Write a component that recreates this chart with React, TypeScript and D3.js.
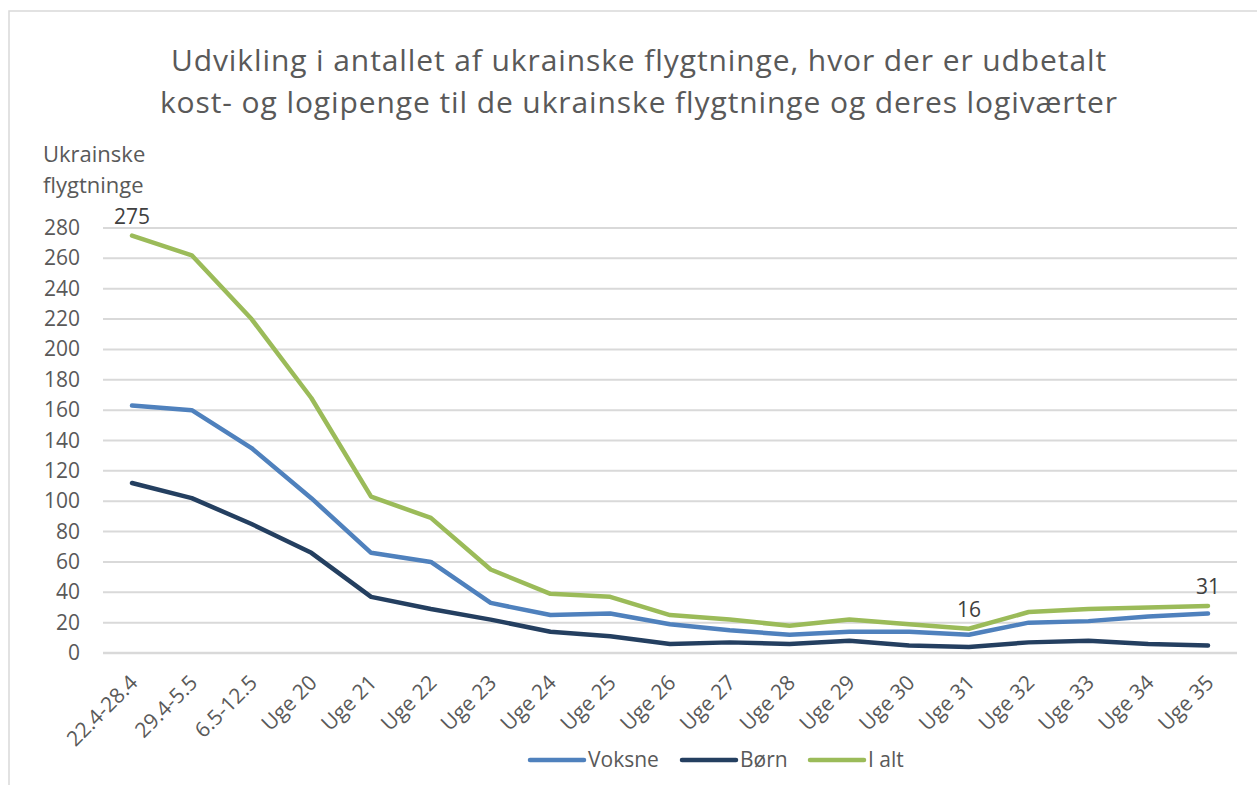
import React from "react";
import * as d3 from "d3";

const categories = [
  "22.4-28.4", "29.4-5.5", "6.5-12.5", "Uge 20", "Uge 21", "Uge 22", "Uge 23",
  "Uge 24", "Uge 25", "Uge 26", "Uge 27", "Uge 28", "Uge 29", "Uge 30",
  "Uge 31", "Uge 32", "Uge 33", "Uge 34", "Uge 35",
];
const voksne = [163, 160, 135, 102, 66, 60, 33, 25, 26, 19, 15, 12, 14, 14, 12, 20, 21, 24, 26];
const boern = [112, 102, 85, 66, 37, 29, 22, 14, 11, 6, 7, 6, 8, 5, 4, 7, 8, 6, 5];
const iAlt = [275, 262, 220, 168, 103, 89, 55, 39, 37, 25, 22, 18, 22, 19, 16, 27, 29, 30, 31];
const yTicks = [0, 20, 40, 60, 80, 100, 120, 140, 160, 180, 200, 220, 240, 260, 280];
// punkter med datalabel (index i iAlt)
const labelIdx = [0, 14, 18];

const W = 1257;
const H = 785;
const FONT = "'Open Sans', sans-serif";
const TXT = "#595959";

const series = [
  { name: "Voksne", values: voksne, color: "#4f81bd" },
  { name: "Børn", values: boern, color: "#243f60" },
  { name: "I alt", values: iAlt, color: "#9bbb59" },
];

export default function App() {
  const x = d3.scalePoint<string>().domain(categories).range([132, 1208]);
  const y = d3.scaleLinear().domain([0, 280]).range([653, 228]);
  const line = d3
    .line<number>()
    .x((_, i) => x(categories[i]) as number)
    .y((d) => y(d));

  const legendX = [530, 682, 810];

  return (
    <svg
      width={W}
      height={H}
      style={{ position: "absolute", left: 0, top: 0, background: "#fff" }}
      fontFamily={FONT}
    >
      <rect x={9} y={11} width={W} height={H} fill="#fff" stroke="#d9d9d9" strokeWidth={1.5} />

      {/* titel */}
      <text x={639} y={71} textAnchor="middle" fontSize={30} letterSpacing={0.9} fill={TXT}>
        Udvikling i antallet af ukrainske flygtninge, hvor der er udbetalt
      </text>
      <text x={639} y={113} textAnchor="middle" fontSize={30} letterSpacing={0.9} fill={TXT}>
        kost- og logipenge til de ukrainske flygtninge og deres logiværter
      </text>

      {/* akse-titel */}
      <text x={43} y={162} fontSize={22} fill={TXT}>Ukrainske</text>
      <text x={43} y={193} fontSize={22} fill={TXT}>flygtninge</text>

      {/* gitterlinjer */}
      {yTicks.map((t) => (
        <g key={t}>
          <line
            x1={103}
            x2={1237}
            y1={y(t)}
            y2={y(t)}
            stroke="#d9d9d9"
            strokeWidth={t === 0 ? 2.5 : 2}
          />
          <text x={80} y={y(t) + 7} textAnchor="end" fontSize={21} fill={TXT}>
            {t}
          </text>
        </g>
      ))}

      {/* x-akse labels */}
      {categories.map((c) => {
        const px = (x(c) as number) + 7;
        const py = 684;
        return (
          <text
            key={c}
            x={px}
            y={py}
            textAnchor="end"
            fontSize={21}
            fill={TXT}
            transform={`rotate(-45 ${px} ${py})`}
          >
            {c}
          </text>
        );
      })}

      {/* serier */}
      {series.map((s) => (
        <path
          key={s.name}
          d={line(s.values) || ""}
          fill="none"
          stroke={s.color}
          strokeWidth={4.5}
          strokeLinejoin="round"
          strokeLinecap="round"
        />
      ))}

      {/* datalabels */}
      {labelIdx.map((i) => (
        <text
          key={i}
          x={x(categories[i]) as number}
          y={y(iAlt[i]) - 12}
          textAnchor="middle"
          fontSize={21}
          fill="#404040"
        >
          {iAlt[i]}
        </text>
      ))}

      {/* legende */}
      {series.map((s, i) => (
        <g key={s.name}>
          <line
            x1={legendX[i]}
            x2={legendX[i] + 54}
            y1={760}
            y2={760}
            stroke={s.color}
            strokeWidth={4.5}
            strokeLinecap="round"
          />
          <text x={legendX[i] + 58} y={767} fontSize={21} fill={TXT}>
            {s.name}
          </text>
        </g>
      ))}
    </svg>
  );
}
